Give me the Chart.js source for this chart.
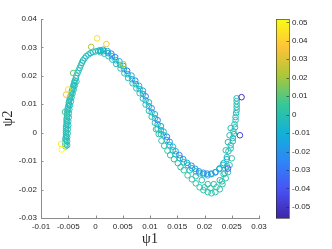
<!DOCTYPE html>
<html>
<head>
<meta charset="utf-8">
<script src="https://cdn.jsdelivr.net/npm/chart.js@4.4.0/dist/chart.umd.min.js"></script>
<style>
  html, body { margin: 0; padding: 0; background: #fff; }
  #grafico { display: block; }
</style>
</head>
<body>
<canvas id="grafico" width="332" height="249"></canvas>
<script>
// tick labels
const xTicks = [-0.01, -0.005, 0, 0.005, 0.01, 0.015, 0.02, 0.025, 0.03];
const yTicks = [-0.03, -0.02, -0.01, 0, 0.01, 0.02, 0.03, 0.04];
const cbTicks = [-0.05, -0.04, -0.03, -0.02, -0.01, 0, 0.01, 0.02, 0.03, 0.04, 0.05];
const cbMin = -0.056, cbMax = 0.0518;

// left branch (bottom -> peak)
const leftX = [-0.0055,-0.0055,-0.0055,-0.0055,-0.0055,-0.0054,-0.0054,-0.0054,-0.0054,-0.0054,
  -0.0054,-0.0053,-0.0053,-0.0053,-0.0053,-0.0052,-0.0052,-0.0052,-0.0051,-0.0051,
  -0.0050,-0.0049,-0.0049,-0.0048,-0.0047,-0.0046,-0.0045,-0.0044,-0.0043,-0.0042,
  -0.0041,-0.0040,-0.0039,-0.0038,-0.0036,-0.0035,-0.0033,-0.0031,-0.0029,-0.0027,
  -0.0025,-0.0023,-0.0020,-0.0017,-0.0013,-0.0009,-0.0005,0.0000,0.0005,0.0010];
const leftY = [-0.0048,-0.0041,-0.0034,-0.0027,-0.0020,-0.0013,-0.0006,0.0001,0.0008,0.0015,
  0.0022,0.0029,0.0036,0.0043,0.0050,0.0057,0.0064,0.0071,0.0078,0.0085,
  0.0092,0.0099,0.0106,0.0113,0.0120,0.0127,0.0134,0.0141,0.0148,0.0155,
  0.0162,0.0169,0.0176,0.0183,0.0192,0.0201,0.0210,0.0219,0.0228,0.0237,
  0.0246,0.0254,0.0262,0.0269,0.0275,0.0280,0.0284,0.0286,0.0288,0.0288];
const leftC = [0.000,-0.001,-0.002,-0.002,-0.001,-0.002,-0.003,-0.002,-0.001,-0.002,
  -0.002,-0.001,-0.002,-0.003,-0.002,-0.002,-0.001,-0.002,-0.002,-0.003,
  -0.002,-0.001,-0.002,-0.002,-0.003,-0.002,-0.001,-0.002,-0.002,-0.002,
  -0.001,-0.002,-0.003,-0.002,-0.002,-0.001,-0.002,-0.003,-0.002,-0.002,
  -0.004,-0.003,-0.002,-0.005,-0.003,-0.006,-0.004,-0.003,-0.007,-0.005];

const left2X = [-0.0052,-0.0052,-0.0052,-0.0051,-0.0051,-0.0050,-0.0050,-0.0049,-0.0049,-0.0048,
  -0.0047,-0.0045,-0.0044,-0.0042,-0.0040,-0.0038,-0.0035];
const left2Y = [-0.0044,-0.0030,-0.0016,-0.0002,0.0012,0.0026,0.0040,0.0054,0.0068,0.0082,
  0.0096,0.0110,0.0124,0.0138,0.0152,0.0166,0.0180];
const left2C = [-0.001,-0.002,-0.002,-0.001,-0.002,-0.003,-0.002,-0.001,-0.002,-0.002,
  -0.003,-0.002,-0.001,-0.002,-0.002,-0.003,-0.002];

// descending limb, trough and right branch (centre row)
const descX = [0.0008,0.0015,0.0023,0.0030,0.0037,0.0045,0.0052,0.0059,0.0067,0.0074,
  0.0081,0.0087,0.0092,0.0098,0.0103,0.0109,0.0114,0.0120,0.0125,0.0131,
  0.0136,0.0142,0.0147,0.0155,0.0162,0.0169,0.0177,0.0184,0.0191,0.0198,
  0.0206,0.0213,0.0220,0.0228,0.0235,0.0241,0.0244,0.0248,0.0252,0.0253,
  0.0255,0.0257,0.0259,0.0259,0.0259];
const descY = [0.0290,0.0287,0.0280,0.0269,0.0255,0.0239,0.0224,0.0206,0.0188,0.0171,
  0.0153,0.0136,0.0114,0.0093,0.0072,0.0051,0.0030,0.0009,-0.0009,-0.0026,
  -0.0044,-0.0062,-0.0076,-0.0090,-0.0104,-0.0114,-0.0125,-0.0136,-0.0143,-0.0146,
  -0.0150,-0.0146,-0.0139,-0.0125,-0.0107,-0.0086,-0.0065,-0.0044,-0.0019,0.0005,
  0.0030,0.0055,0.0079,0.0100,0.0121];
const descC = [-0.004,-0.003,-0.005,-0.004,-0.010,-0.004,-0.003,-0.007,-0.004,-0.003,
  -0.005,-0.004,-0.003,-0.010,-0.004,-0.003,-0.005,-0.004,-0.003,-0.004,
  -0.007,-0.003,-0.004,-0.005,-0.003,-0.004,-0.007,-0.003,-0.004,-0.005,
  -0.003,-0.004,-0.003,-0.005,-0.004,-0.003,-0.002,-0.001,-0.002,-0.002,
  -0.001,-0.002,-0.001,-0.002,-0.003];

// lower-left row of the descending limb
const lowX = [0.0009,0.0016,0.0024,0.0031,0.0038,0.0046,0.0053,0.0060,0.0068,0.0075,
  0.0081,0.0087,0.0092,0.0098,0.0103,0.0109,0.0114,0.0120];
const lowY = [0.0283,0.0278,0.0269,0.0257,0.0242,0.0226,0.0209,0.0192,0.0174,0.0156,
  0.0139,0.0120,0.0099,0.0077,0.0056,0.0035,0.0014,-0.0005];
const lowC = [-0.002,-0.001,-0.002,-0.003,-0.002,-0.001,-0.002,-0.004,-0.002,-0.001,
  -0.002,-0.001,-0.002,-0.001,0.000,-0.002,-0.001,-0.002];

// outer (lower-left) row further down the limb
const outerX = [0.0111,0.0116,0.0121,0.0126,0.0132,0.0137,0.0144,0.0151,0.0156];
const outerY = [0.0012,-0.0005,-0.0028,-0.0046,-0.0063,-0.0079,-0.0093,-0.0107,-0.0121];
const outerC = [0.000,0.001,0.000,0.001,0.002,0.000,0.001,0.000,0.001];

// lower band of the trough
const troughX = [0.0162,0.0169,0.0177,0.0184,0.0191,0.0198,0.0206,0.0213,0.0220,0.0228,
  0.0233,0.0239,0.0243,0.0246,0.0250,
  0.0173,0.0184,0.0195,0.0206,0.0217,0.0228,0.0235,0.0241,
  0.0200,0.0211,0.0222,0.0232,0.0237];
const troughY = [-0.0132,-0.0150,-0.0164,-0.0178,-0.0192,-0.0202,-0.0209,-0.0213,-0.0209,-0.0199,
  -0.0181,-0.0160,-0.0139,-0.0114,-0.0090,
  -0.0132,-0.0153,-0.0167,-0.0181,-0.0181,-0.0167,-0.0146,-0.0118,
  -0.0192,-0.0195,-0.0192,-0.0171,-0.0142];
const troughC = [0.001,0.002,0.001,0.003,0.002,0.001,0.003,0.002,0.001,0.002,
  0.001,0.002,0.000,0.001,0.000,
  -0.001,0.000,-0.002,-0.001,0.000,-0.001,-0.002,-0.001,
  0.002,0.001,0.002,0.001,0.000];

// right branch (dense upper part)
const rightX = [0.0259,0.0259,0.0258,0.0257,0.0256,0.0254,0.0252,0.0248,0.0248,0.0246,0.0243,0.0239];
const rightY = [0.0111,0.0090,0.0069,0.0044,0.0019,-0.0005,-0.0030,-0.0055,0.0016,-0.0009,-0.0033,-0.0062];
const rightC = [-0.001,-0.002,-0.001,-0.002,-0.001,-0.003,-0.002,-0.001,-0.002,-0.001,-0.003,-0.002];

// upper-right row (bluish points) of the descending limb
const blueX = [0.0014,0.0022,0.0029,0.0036,0.0044,0.0051,0.0058,0.0066,0.0073,0.0080,0.0087,
  0.0092,0.0098,0.0103,0.0109,0.0114,0.0120,0.0125,0.0131,0.0136,0.0142,
  0.0147,0.0154,0.0161,0.0168,0.0176,0.0183,0.0190,0.0198,0.0205,0.0212,
  0.0220,0.0227,0.0234,0.0241];
const blueY = [0.0292,0.0287,0.0278,0.0266,0.0251,0.0235,0.0218,0.0201,0.0183,0.0165,0.0148,
  0.0128,0.0107,0.0086,0.0065,0.0044,0.0023,0.0004,-0.0014,-0.0032,-0.0049,
  -0.0065,-0.0079,-0.0093,-0.0106,-0.0116,-0.0127,-0.0136,-0.0141,-0.0144,-0.0144,
  -0.0139,-0.0128,-0.0113,-0.0093];
const blueC = [-0.010,-0.015,-0.028,-0.025,-0.012,-0.006,-0.028,-0.010,-0.026,-0.008,-0.015,
  -0.028,-0.006,-0.025,-0.008,-0.028,-0.010,-0.005,-0.027,-0.022,-0.006,
  -0.012,-0.028,-0.020,-0.008,-0.025,-0.015,-0.027,-0.020,-0.026,-0.015,
  -0.024,-0.012,-0.006,-0.010];

// isolated points
const extraX = [-0.0062,-0.0063,-0.0054,-0.0050,-0.0056,-0.0041,0.0003,0.0020,-0.0008,0.0051,0.0268,0.0265,0.0243];
const extraY = [-0.0059,-0.0040,0.0134,0.0152,0.0073,0.0210,0.0332,0.0312,0.0302,0.0241,0.0125,-0.0009,-0.0126];
const extraC = [0.052,0.048,0.036,0.043,0.008,0.012,0.044,0.038,0.022,0.020,-0.052,-0.046,-0.040];

const parulaStops = [
  [62, 38, 168], [72, 82, 244], [46, 135, 247], [18, 177, 214],
  [55, 200, 151], [171, 199, 57], [254, 195, 56], [249, 251, 21]
];
const corEixo = '#8c8c8c';
const corTexto = '#262626';
const fonteTicks = { family: 'Liberation Sans, Arial, sans-serif', size: 8 };
const fonteTitulo = { family: 'Liberation Serif, Times New Roman, serif', size: 14, lineHeight: 1 };

function parula(v) {
  let f = (v - cbMin) / (cbMax - cbMin);
  f = Math.min(1, Math.max(0, f)) * (parulaStops.length - 1);
  const i = Math.min(parulaStops.length - 2, Math.floor(f));
  const t = f - i;
  const a = parulaStops[i], b = parulaStops[i + 1];
  const c = a.map((ai, k) => Math.round(ai + (b[k] - ai) * t));
  return `rgb(${c[0]},${c[1]},${c[2]})`;
}

const segmentos = [
  [leftX, leftY, leftC], [left2X, left2Y, left2C], [descX, descY, descC], [lowX, lowY, lowC],
  [outerX, outerY, outerC], [troughX, troughY, troughC], [rightX, rightY, rightC],
  [blueX, blueY, blueC], [extraX, extraY, extraC]
];
const pontos = [];
const cores = [];
segmentos.forEach(([xs, ys, cs]) => {
  xs.forEach((x, i) => { pontos.push({ x: x, y: ys[i] }); cores.push(parula(cs[i])); });
});

const fmt = v => String(parseFloat(Number(v).toFixed(4)));

const marcasPlugin = {
  id: 'marcas',
  afterDraw(chart) {
    const ctx = chart.ctx;
    const { x, y, cb } = chart.scales;
    const area = chart.chartArea;
    ctx.save();
    ctx.strokeStyle = corEixo;
    ctx.lineWidth = 1;
    ctx.beginPath();
    x.ticks.forEach(t => {
      const px = Math.round(x.getPixelForValue(t.value)) + 0.5;
      ctx.moveTo(px, area.bottom); ctx.lineTo(px, area.bottom - 2.5);
    });
    y.ticks.forEach(t => {
      const py = Math.round(y.getPixelForValue(t.value)) + 0.5;
      ctx.moveTo(area.left, py); ctx.lineTo(area.left + 2.5, py);
    });
    ctx.stroke();

    // colorbar
    const topo = cb.getPixelForValue(cbMax), base = cb.getPixelForValue(cbMin);
    const esq = area.right + 17, larg = 13;
    const grad = ctx.createLinearGradient(0, base, 0, topo);
    parulaStops.forEach((c, i) => grad.addColorStop(i / (parulaStops.length - 1), `rgb(${c[0]},${c[1]},${c[2]})`));
    ctx.fillStyle = grad;
    ctx.fillRect(esq, topo, larg, base - topo);
    ctx.strokeStyle = 'rgba(38,38,38,0.75)';
    ctx.lineWidth = 0.8;
    ctx.strokeRect(esq + 0.5, topo + 0.5, larg, base - topo);
    ctx.beginPath();
    cb.ticks.forEach(t => {
      const py = Math.round(cb.getPixelForValue(t.value)) + 0.5;
      ctx.moveTo(esq + larg, py); ctx.lineTo(esq + larg - 2.5, py);
    });
    ctx.stroke();
    ctx.restore();
  }
};

new Chart(document.getElementById('grafico').getContext('2d'), {
  type: 'scatter',
  data: {
    datasets: [{
      data: pontos,
      pointStyle: 'circle',
      pointRadius: 2.8,
      pointHoverRadius: 2.8,
      pointBorderWidth: 1,
      pointBackgroundColor: 'rgba(0,0,0,0)',
      pointBorderColor: cores
    }]
  },
  options: {
    responsive: false,
    animation: false,
    devicePixelRatio: 1,
    layout: { padding: { top: 19, left: 0, right: 0, bottom: 0 } },
    plugins: { legend: { display: false }, tooltip: { enabled: false } },
    scales: {
      x: {
        type: 'linear', min: -0.01, max: 0.03,
        afterBuildTicks: s => { s.ticks = xTicks.map(v => ({ value: v })); },
        afterFit: s => { s.height = 31; },
        grid: { display: false, drawTicks: false },
        border: { display: true, color: corEixo, width: 1 },
        ticks: { padding: 4, font: fonteTicks, color: corTexto, callback: fmt, maxRotation: 0, autoSkip: false },
        title: { display: true, text: 'ψ1', font: fonteTitulo, color: corTexto, padding: { top: 0, bottom: 3 } }
      },
      y: {
        type: 'linear', min: -0.03, max: 0.04,
        afterBuildTicks: s => { s.ticks = yTicks.map(v => ({ value: v })); },
        afterFit: s => { s.width = 41; },
        grid: { display: false, drawTicks: false },
        border: { display: true, color: corEixo, width: 1 },
        ticks: { padding: 4, font: fonteTicks, color: corTexto, callback: fmt, autoSkip: false },
        title: { display: true, text: 'ψ2', font: fonteTitulo, color: corTexto, padding: { top: 1, bottom: 0 } }
      },
      cb: {
        type: 'linear', position: 'right', min: cbMin, max: cbMax,
        afterBuildTicks: s => { s.ticks = cbTicks.map(v => ({ value: v })); },
        afterFit: s => { s.width = 73; },
        grid: { display: false, drawTicks: true, tickLength: 31 },
        border: { display: false },
        ticks: { padding: 2, font: fonteTicks, color: corTexto, callback: fmt, autoSkip: false }
      }
    }
  },
  plugins: [marcasPlugin]
});
</script>
</body>
</html>
